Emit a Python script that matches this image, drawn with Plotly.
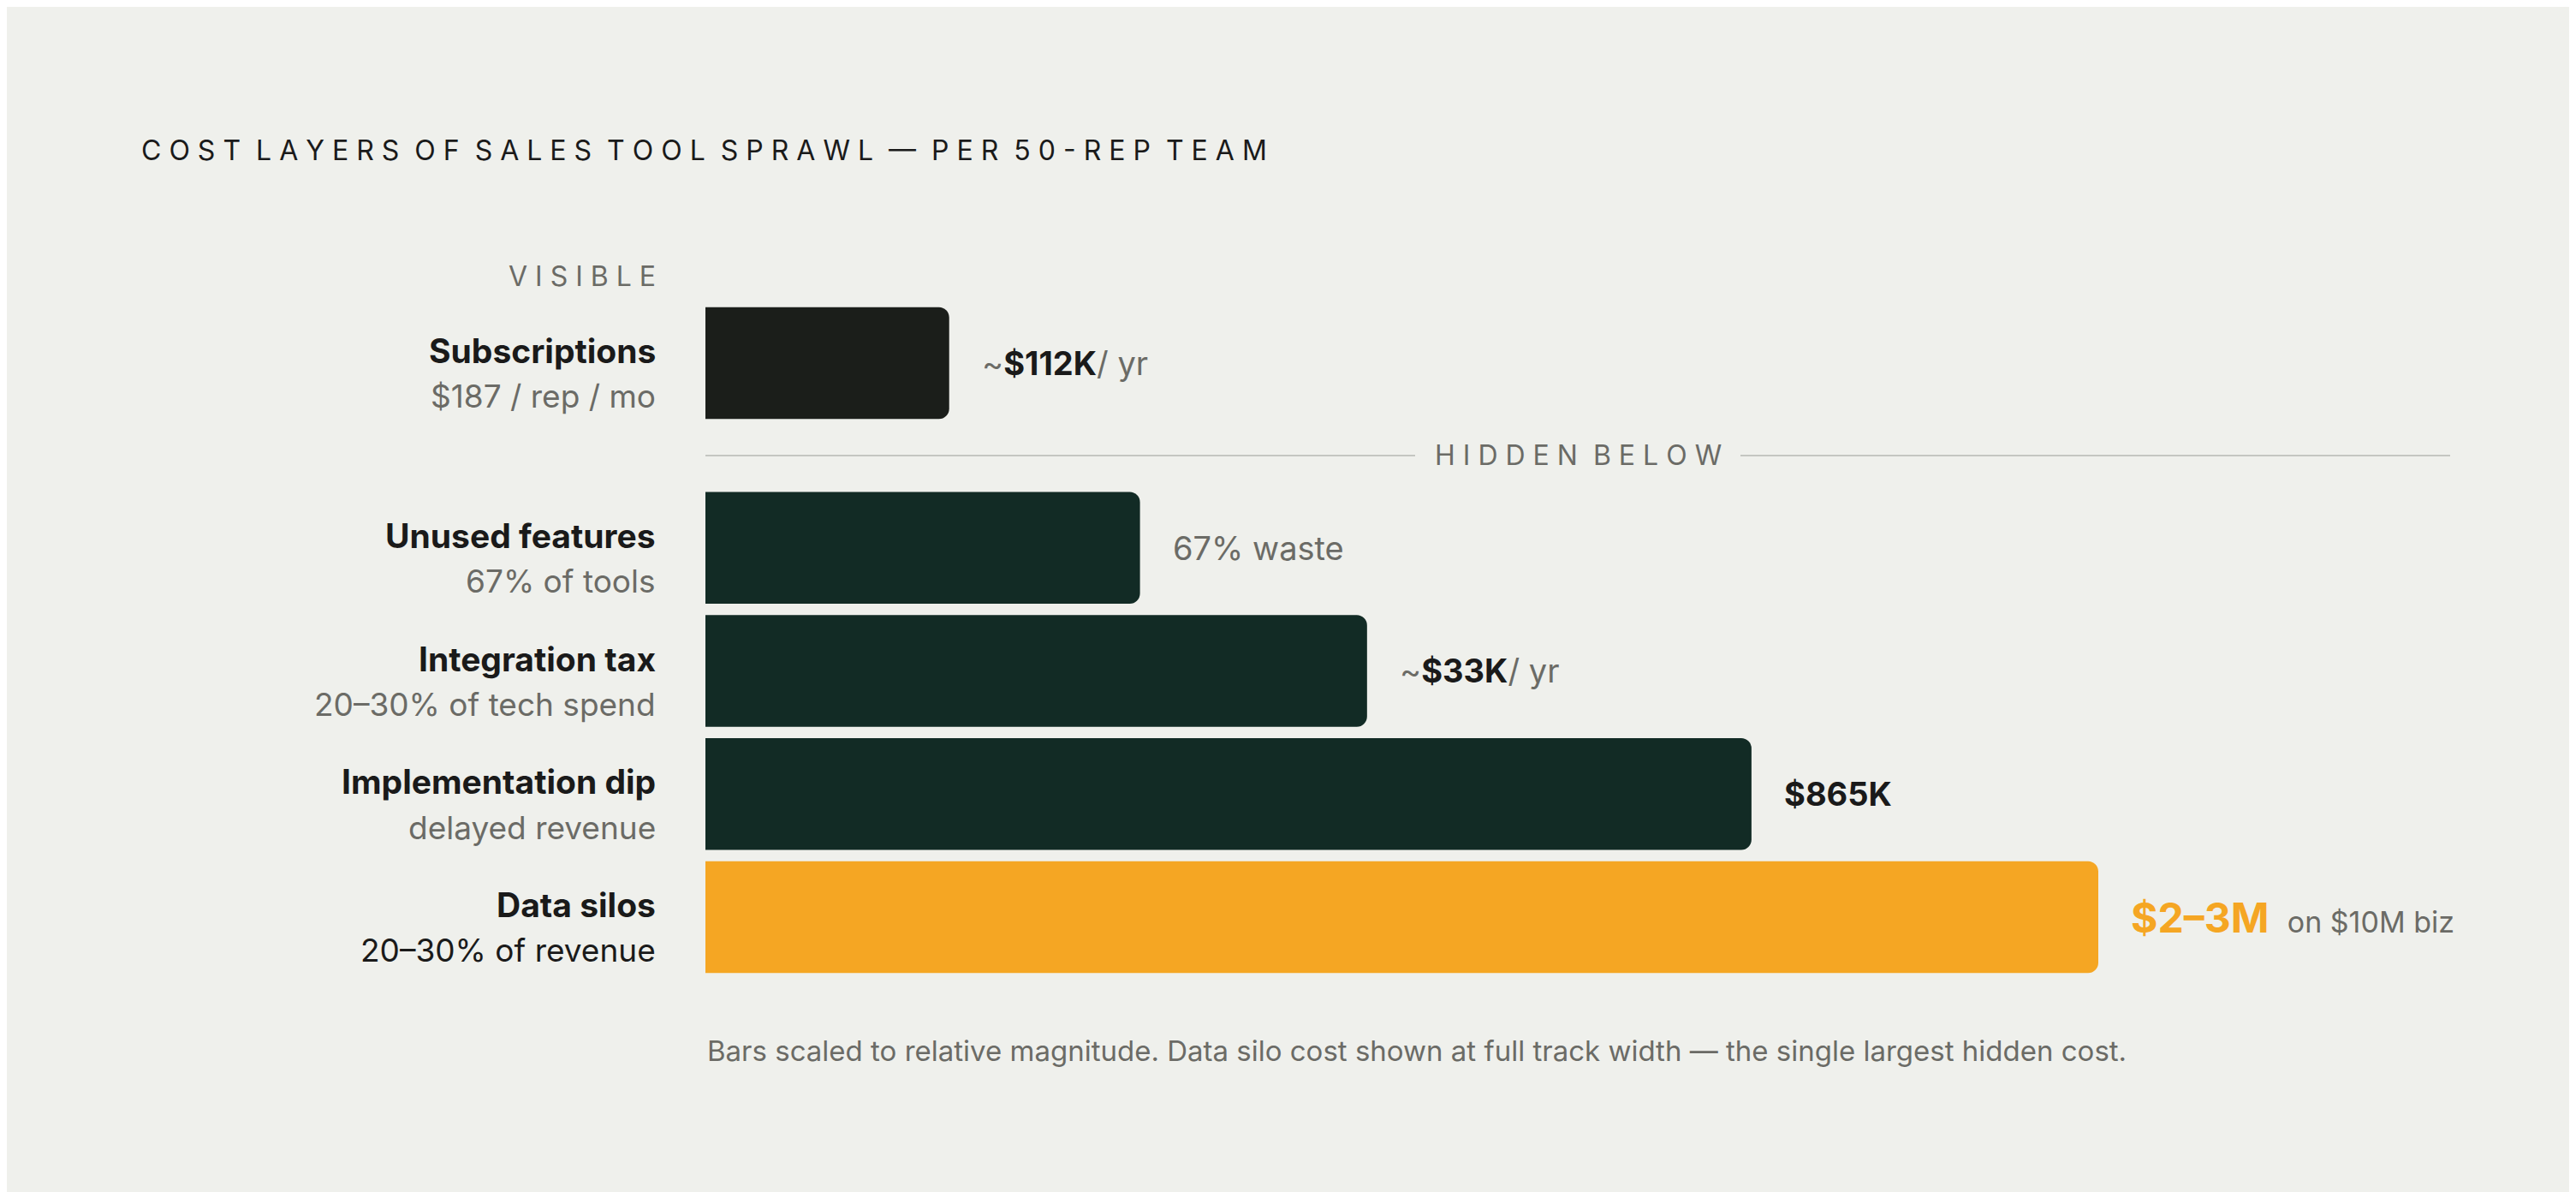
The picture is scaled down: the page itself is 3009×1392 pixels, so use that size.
import plotly.graph_objects as go

W, H = 3009, 1392

# data
labels = ["Subscriptions", "Unused features", "Integration tax", "Implementation dip", "Data silos"]
sublabels = ["$187 / rep / mo", "67% of tools", "20–30% of tech spend", "delayed revenue", "20–30% of revenue"]
magnitude = [0.175, 0.312, 0.475, 0.751, 1.0]
row_pos = [4.5, 3, 2, 1, 0]
value_text = [
    "~<b style='color:#1a1a1a'>$112K</b>/ yr",
    "67% waste",
    "~<b style='color:#1a1a1a'>$33K</b>/ yr",
    "<b style='color:#1a1a1a'>$865K</b>",
    "<b style='color:#F5A623;font-size:48px'>$2–3M</b>  <span style='font-size:34px'>on $10M biz</span>",
]
colors = ["#1B1E1A", "#122B25", "#122B25", "#122B25", "#F5A623"]

BG = "#EFF0EC"
DARK = "#1a1a1a"
GRAY = "#6b6b66"
FONT = "Inter"

x0_px, x1_px = 816, 2443


def px(x):
    return x / W


def py(y):
    return 1 - y / H


fig = go.Figure(go.Bar(
    x=magnitude, y=row_pos, orientation="h", width=0.908,
    marker=dict(color=colors, cornerradius=12, line=dict(width=0)),
    hoverinfo="skip",
))

ann = []
for lab, sub, r in zip(labels, sublabels, row_pos):
    ann.append(dict(x=px(760), y=r + 0.1, xref="paper", yref="y", text=f"<b>{lab}</b>",
                    xanchor="right", yanchor="middle", showarrow=False,
                    font=dict(size=39, color=DARK, family=FONT)))
    ann.append(dict(x=px(760), y=r - 0.27, xref="paper", yref="y", text=sub,
                    xanchor="right", yanchor="middle", showarrow=False,
                    font=dict(size=37, color=DARK if r == 0 else GRAY, family=FONT)))
for m, t, r in zip(magnitude, value_text, row_pos):
    ann.append(dict(x=m, y=r, xref="x", yref="y", text=t, xanchor="left", yanchor="middle",
                    xshift=36, showarrow=False, font=dict(size=38, color=GRAY, family=FONT)))

ann += [
    dict(x=px(155), y=py(167), xref="paper", yref="paper", showarrow=False, xanchor="left",
         yanchor="middle", text="C O S T  L A Y E R S  O F  S A L E S  T O O L  S P R A W L  —  P E R  5 0 - R E P  T E A M",
         font=dict(size=32, color=DARK, family=FONT)),
    dict(x=px(760), y=py(315), xref="paper", yref="paper", showarrow=False, xanchor="right",
         yanchor="middle", text="V I S I B L E", font=dict(size=32, color=GRAY, family=FONT)),
    dict(x=px(1835), y=py(524), xref="paper", yref="paper", showarrow=False, xanchor="center",
         yanchor="middle", text="H I D D E N  B E L O W", font=dict(size=32, color=GRAY, family=FONT)),
    dict(x=px(816), y=py(1219), xref="paper", yref="paper", showarrow=False, xanchor="left",
         yanchor="middle",
         text="Bars scaled to relative magnitude. Data silo cost shown at full track width — the single largest hidden cost.",
         font=dict(size=33, color=GRAY, family=FONT)),
]

shapes = [
    dict(type="line", xref="paper", yref="paper", x0=px(816), x1=px(1645), y0=py(524), y1=py(524),
         line=dict(color="#c4c6c1", width=2)),
    dict(type="line", xref="paper", yref="paper", x0=px(2025), x1=px(2854), y0=py(524), y1=py(524),
         line=dict(color="#c4c6c1", width=2)),
]

fig.update_layout(
    width=W, height=H, margin=dict(l=0, r=0, t=0, b=0),
    paper_bgcolor=BG, plot_bgcolor=BG, showlegend=False,
    xaxis=dict(domain=[px(x0_px), px(x1_px)], range=[0, 1], visible=False, fixedrange=True),
    yaxis=dict(domain=[0, 1], range=[-2.288, 7.393], visible=False, fixedrange=True),
    annotations=ann, shapes=shapes, font=dict(family=FONT),
)

fig.write_html("out.html")
